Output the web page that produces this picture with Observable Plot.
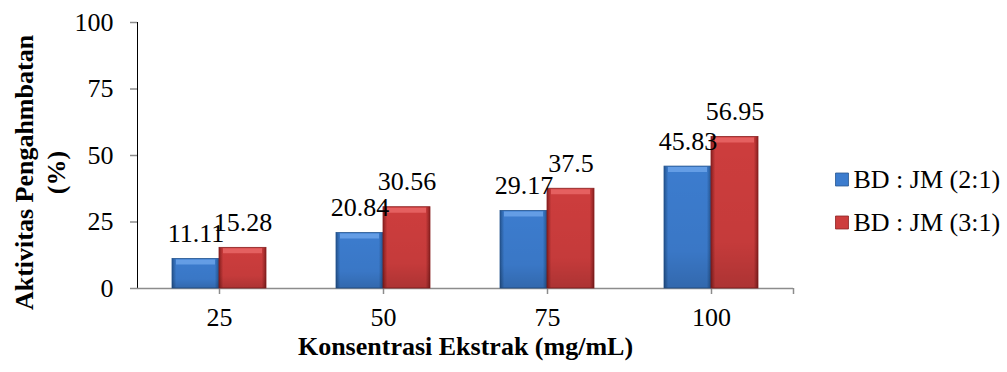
<!DOCTYPE html>
<html>
<head>
<meta charset="utf-8">
<script src="https://cdn.jsdelivr.net/npm/d3@7"></script>
<script src="https://cdn.jsdelivr.net/npm/@observablehq/plot@0.6"></script>
<style>
  html, body { margin: 0; padding: 0; background: #fff; }
  #chart svg, #chart svg text { font-family: "Liberation Serif", "Times New Roman", Times, serif !important; }
</style>
</head>
<body>
<div id="chart"></div>
<script>
const categories = ["25", "50", "75", "100"];
const seriesNames = ["BD : JM (2:1)", "BD : JM (3:1)"];
const values21 = [11.11, 20.84, 29.17, 45.83];
const values31 = [15.28, 30.56, 37.5, 56.95];
const valueLabels21 = ["11.11", "20.84", "29.17", "45.83"];
const valueLabels31 = ["15.28", "30.56", "37.5", "56.95"];
const yTicks = [0, 25, 50, 75, 100];
const xTitle = "Konsentrasi Ekstrak (mg/mL)";
const yTitle = "Aktivitas Pengahmbatan\n(%)";

const blue = "#3c7cce", blueLight = "#72a8ec", blueDark = "#24548f";
const red = "#cd3d3d", redLight = "#ec6c6c", redDark = "#8a2020";

const d21 = categories.map((c, i) => ({cat: c, v: values21[i], label: valueLabels21[i]}));
const d31 = categories.map((c, i) => ({cat: c, v: values31[i], label: valueLabels31[i]}));

const half = 47;
const font = "Liberation Serif, Times New Roman, serif";

const chart = Plot.plot({
  width: 1007,
  height: 372,
  marginLeft: 137,
  marginRight: 214,
  marginTop: 22,
  marginBottom: 84,
  style: {fontFamily: font, fontSize: "26px", color: "black", background: "white", overflow: "visible"},
  x: {domain: categories, paddingInner: 0.4268, paddingOuter: 0.2134, label: null, tickSize: 6, tickPadding: 13},
  y: {domain: [0, 100], ticks: yTicks, tickSize: 7, tickPadding: 17, label: null, line: true},
  marks: [
    Plot.ruleY([0], {stroke: "#8c8c8c", strokeWidth: 1.5}),
    Plot.ruleX([categories[categories.length - 1]], {x: d => d, y1: 0, y2: 0, insetBottom: -6, dx: 82, stroke: "#8c8c8c", strokeWidth: 1.5}),
    Plot.barY(d21, {x: "cat", y: "v", insetRight: half, fill: "url(#gBlue)", stroke: blueDark, strokeWidth: 0.8}),
    Plot.barY(d31, {x: "cat", y: "v", insetLeft: half, fill: "url(#gRed)", stroke: redDark, strokeWidth: 0.8}),
    Plot.barY(d21, {x: "cat", y: "v", insetRight: half, fill: "url(#gShade)"}),
    Plot.barY(d31, {x: "cat", y: "v", insetLeft: half, fill: "url(#gShade)"}),
    Plot.tickY(d21, {x: "cat", y: "v", insetRight: half + 4, insetLeft: 4, dy: 3, stroke: blueLight, strokeWidth: 5, strokeOpacity: 0.75}),
    Plot.tickY(d31, {x: "cat", y: "v", insetLeft: half + 4, insetRight: 4, dy: 3, stroke: redLight, strokeWidth: 5, strokeOpacity: 0.75}),
    Plot.text(d21, {x: "cat", y: "v", text: "label", dx: -23.5, dy: -17, lineAnchor: "bottom", fill: "black"}),
    Plot.text(d31, {x: "cat", y: "v", text: "label", dx: 23.5, dy: -17, lineAnchor: "bottom", fill: "black"}),
    Plot.text([xTitle], {frameAnchor: "bottom", text: d => d, dy: 58, lineAnchor: "middle", textAnchor: "middle", fontWeight: "bold"}),
    Plot.text([yTitle], {frameAnchor: "left", text: d => d, rotate: -90, dx: -98.5, dy: 17, lineAnchor: "middle", textAnchor: "middle", lineHeight: 1.2, fontWeight: "bold"}),
    Plot.dot([seriesNames[0]], {frameAnchor: "top-right", symbol: "square", r: 7.3, dx: 48.5, dy: 157, fill: blue, stroke: blueDark, strokeWidth: 0.8}),
    Plot.dot([seriesNames[1]], {frameAnchor: "top-right", symbol: "square", r: 7.3, dx: 48.5, dy: 200, fill: red, stroke: redDark, strokeWidth: 0.8}),
    Plot.text([seriesNames[0]], {frameAnchor: "top-right", text: d => d, textAnchor: "start", dx: 60, dy: 157, lineAnchor: "middle"}),
    Plot.text([seriesNames[1]], {frameAnchor: "top-right", text: d => d, textAnchor: "start", dx: 60, dy: 200, lineAnchor: "middle"})
  ]
});

// gradient defs for bevelled bars
const svg = d3.select(chart);
const defs = svg.insert("defs", ":first-child");
function grad(id, dark, main) {
  const g = defs.append("linearGradient").attr("id", id).attr("x1", "0").attr("x2", "1").attr("y1", "0").attr("y2", "0");
  g.append("stop").attr("offset", "0%").attr("stop-color", dark);
  g.append("stop").attr("offset", "9%").attr("stop-color", main);
  g.append("stop").attr("offset", "91%").attr("stop-color", main);
  g.append("stop").attr("offset", "100%").attr("stop-color", dark);
}
grad("gBlue", blueDark, blue);
grad("gRed", redDark, red);
const sh = defs.append("linearGradient").attr("id", "gShade").attr("x1", "0").attr("x2", "0").attr("y1", "0").attr("y2", "1");
sh.append("stop").attr("offset", "0%").attr("stop-color", "#000").attr("stop-opacity", 0);
sh.append("stop").attr("offset", "70%").attr("stop-color", "#000").attr("stop-opacity", 0.04);
sh.append("stop").attr("offset", "100%").attr("stop-color", "#000").attr("stop-opacity", 0.16);

// axis colors: gray lines, black labels
svg.selectAll('g[aria-label="y-axis tick"], g[aria-label="x-axis tick"], g[aria-label="y-axis line"]').attr("stroke", "#8c8c8c").attr("stroke-width", 1.5);

document.getElementById("chart").appendChild(chart);
</script>
</body>
</html>
